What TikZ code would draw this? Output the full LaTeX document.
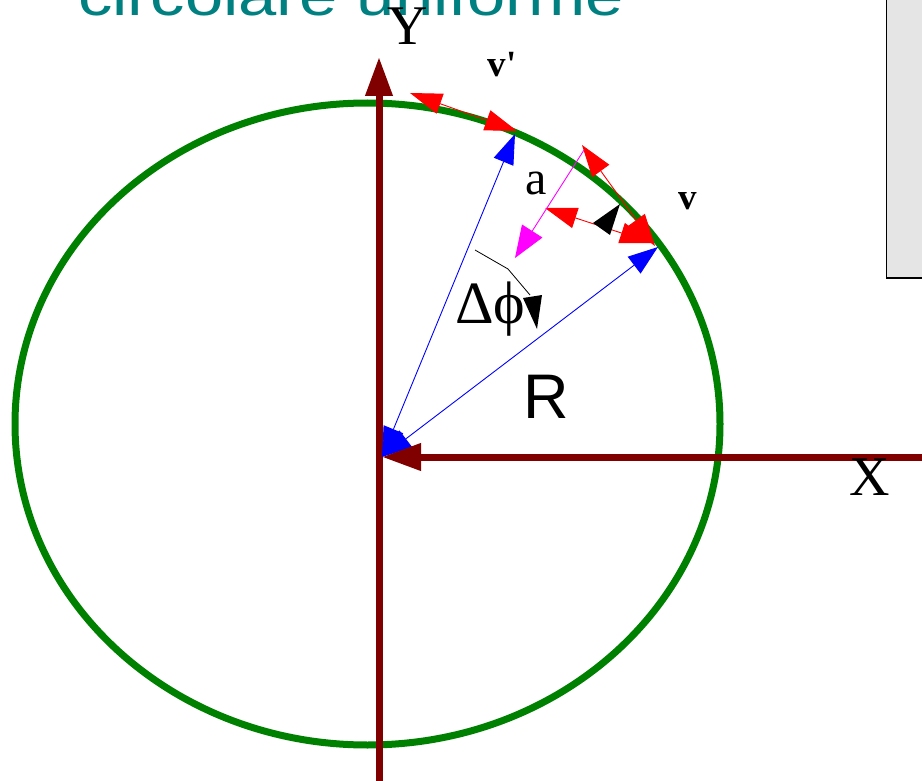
\documentclass[tikz,border=0pt]{standalone}
\usepackage{fontspec}
\usepackage{graphicx}
\setmainfont{Liberation Serif}
\newfontfamily\serifR{Liberation Serif}
\newfontfamily\sansR{Liberation Sans}
\usetikzlibrary{arrows.meta}
\definecolor{axisred}{RGB}{128,0,0}
\definecolor{circgreen}{RGB}{0,128,0}
\definecolor{titleteal}{RGB}{0,128,128}
\definecolor{boxgray}{RGB}{229,229,229}
\definecolor{accmag}{RGB}{255,0,255}
\begin{document}
\begin{tikzpicture}[x=1pt,y=-1pt,
  axisline/.style={draw=axisred, line width=7pt, -{Triangle[length=39pt,width=26pt]}},
  bluevec/.style={draw=blue, line width=0.9pt, {Triangle[length=30pt,width=21pt]}-{Triangle[length=30pt,width=21pt]}},
  redvec/.style={draw=red, line width=0.9pt, {Triangle[length=32pt,width=21pt]}-{Triangle[length=32pt,width=21pt]}},
  magvec/.style={draw=accmag, line width=0.9pt, -{Triangle[length=32pt,width=24pt]}},
  lbl/.style={inner sep=0pt, text=black},
]
\useasboundingbox (0,0) rectangle (922,781);

% title (cut off at the top)
\node[anchor=base west, inner sep=0pt, text=titleteal] (title) at (78,16)
  {\resizebox{546pt}{41pt}{\sansR\fontsize{50}{50}\selectfont circolare uniforme}};

% grey box on the right
\fill[boxgray] (886.5,-10) rectangle (930,278);
\draw[black, line width=1.6pt] (886.5,-10) -- (886.5,278) -- (930,278);

% circle
\draw[circgreen, line width=7pt] (367.5,424) ellipse [x radius=352.5, y radius=321];

% coordinates
\coordinate (O) at (382,457);
\coordinate (P1) at (515,134);
\coordinate (P2) at (658,247);
\coordinate (Ybot) at (379,800);
\coordinate (Ytip) at (379,57);
\coordinate (Xend) at (940,457);
\coordinate (V1a) at (410,93);
\coordinate (V1b) at (517,131);
\coordinate (V2a) at (582,145);
\coordinate (V2b) at (655,246);
\coordinate (Da) at (545,208);
\coordinate (Db) at (652,243);
\coordinate (Ma) at (584,150);
\coordinate (Mb) at (515,258);
\coordinate (A1) at (475,250);
\coordinate (A2) at (508,269);
\coordinate (A3) at (530,295);

% Y axis
\draw[axisline] (Ybot) -- (Ytip);

% radius vectors
\draw[bluevec] (O) -- (P1);
\draw[bluevec] (O) -- (P2);

% X axis (arrow at the origin)
\draw[axisline] (Xend) -- (O);

% velocity vectors
\draw[redvec] (V1a) -- (V1b);
\draw[redvec] (V2a) -- (V2b);
\draw[redvec] (Da) -- (Db);

% acceleration
\draw[magvec] (Ma) -- (Mb);

% small black tip
\fill[black] (593,223) -- (620,204) -- (610,235) -- cycle;

% angle marker
\draw[black, line width=0.8pt] (A1) -- (A2) -- (A3);
\fill[black] (523,298) -- (542,295) -- (537,329) -- cycle;

% labels
\node[lbl, anchor=base, font=\serifR\fontsize{56}{56}\selectfont] (ylab) at (408,45) {Y};
\node[lbl, anchor=base, font=\serifR\fontsize{56}{56}\selectfont] (xlab) at (870,495) {X};
\node[lbl, anchor=base, font=\serifR\fontsize{48}{48}\selectfont] (alab) at (536,195) {a};
\node[lbl, anchor=base, font=\serifR\fontsize{37}{37}\selectfont\bfseries] (vlab) at (688,210) {v};
\node[lbl, anchor=base, font=\serifR\fontsize{37}{37}\selectfont\bfseries] (vplab) at (502,77) {v\textquotesingle};
\node[lbl, anchor=base west, font=\serifR\fontsize{60}{60}\selectfont] (philab) at (455,323) {Δϕ};
\node[lbl, anchor=base, font=\sansR\fontsize{63}{63}\selectfont] (rlab) at (546,418) {R};
\end{tikzpicture}
\end{document}
